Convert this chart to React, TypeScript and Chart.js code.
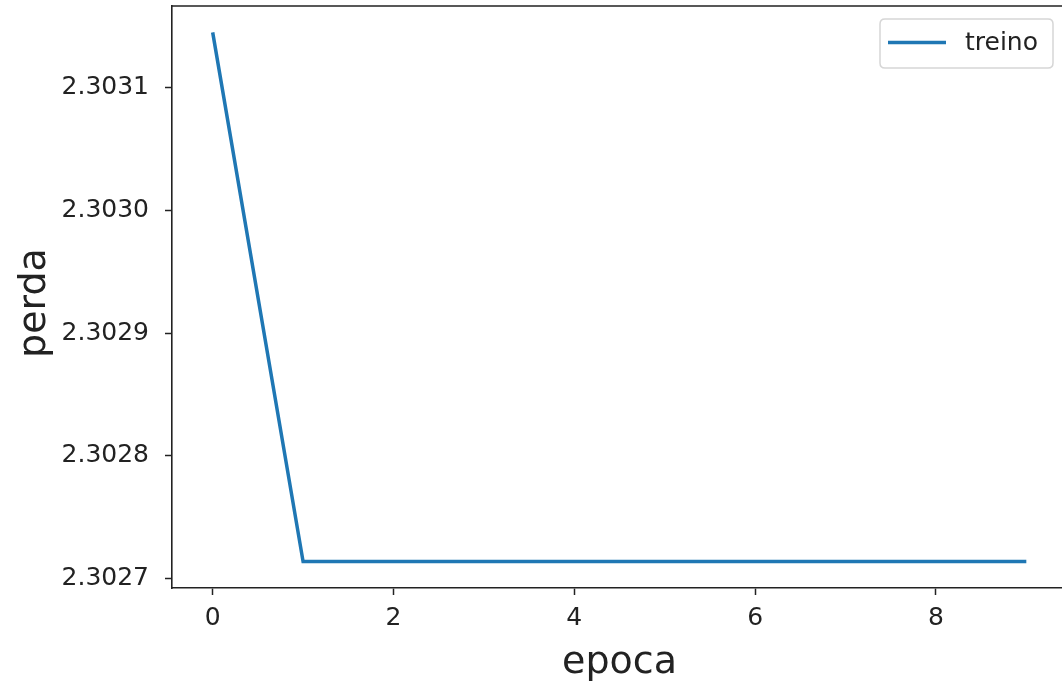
import React, { useEffect, useRef } from "react";
import { Chart, registerables } from "chart.js";

Chart.register(...registerables);

const epochs = [0, 1, 2, 3, 4, 5, 6, 7, 8, 9];
const trainLoss = [
  2.3031447, 2.3027141, 2.3027141, 2.3027141, 2.3027141, 2.3027141, 2.3027141,
  2.3027141, 2.3027141, 2.3027141,
];
const xTicks = [0, 2, 4, 6, 8];
const yTicks = [2.3027, 2.3028, 2.3029, 2.303, 2.3031];
const seriesLabel = "treino";
const xTitle = "epoca";
const yTitle = "perda";

const FONT = "'DejaVu Sans', sans-serif";
const INK = "#222222";

const framePlugin = {
  id: "frameAndLegend",
  afterDraw(chart: any) {
    const { ctx, chartArea } = chart;
    ctx.save();
    // top spine
    ctx.strokeStyle = INK;
    ctx.lineWidth = 1.6;
    ctx.beginPath();
    ctx.moveTo(chartArea.left, chartArea.top);
    ctx.lineTo(chartArea.right, chartArea.top);
    ctx.moveTo(chartArea.right, chartArea.top);
    ctx.lineTo(chartArea.right, chartArea.bottom);
    ctx.stroke();

    // legend
    const ds = chart.data.datasets[0];
    const bx = 880, by = 19, bw = 173, bh = 49, r = 5;
    ctx.beginPath();
    ctx.moveTo(bx + r, by);
    ctx.lineTo(bx + bw - r, by);
    ctx.quadraticCurveTo(bx + bw, by, bx + bw, by + r);
    ctx.lineTo(bx + bw, by + bh - r);
    ctx.quadraticCurveTo(bx + bw, by + bh, bx + bw - r, by + bh);
    ctx.lineTo(bx + r, by + bh);
    ctx.quadraticCurveTo(bx, by + bh, bx, by + bh - r);
    ctx.lineTo(bx, by + r);
    ctx.quadraticCurveTo(bx, by, bx + r, by);
    ctx.closePath();
    ctx.fillStyle = "rgba(255,255,255,0.8)";
    ctx.fill();
    ctx.strokeStyle = "#d6d6d6";
    ctx.lineWidth = 1.5;
    ctx.stroke();

    ctx.strokeStyle = ds.borderColor;
    ctx.lineWidth = ds.borderWidth;
    ctx.beginPath();
    ctx.moveTo(888, 42.5);
    ctx.lineTo(946, 42.5);
    ctx.stroke();

    ctx.fillStyle = INK;
    ctx.font = `25px ${FONT}`;
    ctx.textBaseline = "middle";
    ctx.textAlign = "left";
    ctx.fillText(ds.label, 965, 43);
    ctx.restore();
  },
};

export default function App() {
  const ref = useRef<HTMLCanvasElement>(null);
  useEffect(() => {
    if (!ref.current) return;
    const chart = new Chart(ref.current, {
      type: "line",
      data: {
        datasets: [
          {
            label: seriesLabel,
            data: epochs.map((e, i) => ({ x: e, y: trainLoss[i] })),
            borderColor: "#1f77b4",
            backgroundColor: "#1f77b4",
            borderWidth: 3.5,
            pointRadius: 0,
            tension: 0,
          },
        ],
      },
      options: {
        responsive: false,
        animation: false,
        layout: { padding: { top: 6, right: 13, left: 0, bottom: 0 } },
        plugins: {
          legend: { display: false },
          tooltip: { enabled: false },
        },
        scales: {
          x: {
            type: "linear",
            min: -0.45,
            max: 9.45,
            afterBuildTicks: (s: any) => {
              s.ticks = xTicks.map((v) => ({ value: v }));
            },
            afterFit: (s: any) => {
              s.height = 101;
              s.paddingLeft = 0;
              s.paddingRight = 0;
            },
            grid: {
              drawOnChartArea: false,
              drawTicks: true,
              tickLength: 7,
              tickWidth: 1.5,
              tickColor: INK,
            },
            border: { display: true, color: INK, width: 1.6 },
            ticks: {
              color: INK,
              font: { family: FONT, size: 25 },
              padding: 8,
              maxRotation: 0,
              callback: (v: any) => String(v),
            },
            title: {
              display: true,
              text: xTitle,
              color: INK,
              font: { family: FONT, size: 38 },
              padding: { top: 0, bottom: 3 },
            },
          },
          y: {
            type: "linear",
            min: 2.3026925,
            max: 2.3031662,
            afterBuildTicks: (s: any) => {
              s.ticks = yTicks.map((v) => ({ value: v }));
            },
            afterFit: (s: any) => {
              s.width = 172;
              s.paddingTop = 0;
              s.paddingBottom = 0;
            },
            grid: {
              drawOnChartArea: false,
              drawTicks: true,
              tickLength: 7,
              tickWidth: 1.5,
              tickColor: INK,
            },
            border: { display: true, color: INK, width: 1.6 },
            ticks: {
              color: INK,
              font: { family: FONT, size: 25 },
              padding: 16,
              callback: (v: any) => Number(v).toFixed(4),
            },
            title: {
              display: true,
              text: yTitle + " ",
              color: INK,
              font: { family: FONT, size: 38 },
              padding: { top: 12, bottom: 0 },
            },
          },
        },
      },
      plugins: [framePlugin],
    });
    return () => chart.destroy();
  }, []);

  return (
    <div
      style={{
        position: "fixed",
        left: 0,
        top: 0,
        width: 1062,
        height: 689,
        overflow: "hidden",
        background: "#fff",
      }}
    >
      <canvas ref={ref} width={1080} height={689} style={{ display: "block" }} />
    </div>
  );
}
